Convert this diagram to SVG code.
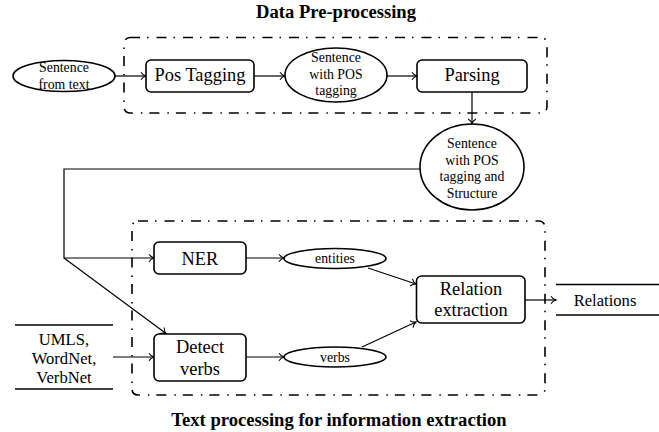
<svg xmlns="http://www.w3.org/2000/svg" width="659" height="432" viewBox="0 0 659 432">
<defs>
<marker id="arr" markerWidth="10" markerHeight="10" viewBox="-6 -5 7 10" refX="0" refY="0" orient="auto" markerUnits="userSpaceOnUse">
<path d="M-5,-3.8 C-3.5,-1.5 -1,-0.3 0,0 C-1,0.3 -3.5,1.5 -5,3.8" fill="none" stroke="#000" stroke-width="1.1"/>
</marker>
<style>
text{font-family:"Liberation Serif","Times New Roman",serif;fill:#000;text-anchor:middle}
.title{font-weight:bold;font-size:18.6px}
.big{font-size:18.4px}
.mid{font-size:16.6px}
.small{font-size:13.8px}
.box{fill:#fff;stroke:#000;stroke-width:1.6}
.group{fill:none;stroke:#000;stroke-width:1.6;stroke-dasharray:10 7 1.5 8}
.con{fill:none;stroke:#000;stroke-width:1.2}
.arrow{marker-end:url(#arr)}
.rule{stroke:#000;stroke-width:1.6}
</style>
</defs>
<rect width="659" height="432" fill="#fff"/>

<g id="titles">
<text class="title" x="336" y="17.5">Data Pre-processing</text>
<text class="title" x="339" y="426">Text processing for information extraction</text>
</g>

<g id="group-preprocessing">
<rect class="group" x="124" y="37.5" width="423" height="75.5" rx="6"/>
</g>
<g id="group-textprocessing">
<rect class="group" x="132" y="221" width="413" height="174" rx="6"/>
</g>

<g id="connectors">
<line class="con arrow" x1="115" y1="76" x2="146" y2="76"/>
<line class="con arrow" x1="254" y1="76" x2="285" y2="76"/>
<line class="con arrow" x1="387" y1="76" x2="417" y2="76"/>
<line class="con arrow" x1="472" y1="92" x2="472" y2="124"/>
<polyline class="con arrow" points="420,169 64,169 64,258 154,258"/>
<line class="con arrow" x1="64" y1="258" x2="166" y2="333.5"/>
<line class="con arrow" x1="246" y1="258" x2="284" y2="258"/>
<line class="con arrow" x1="113" y1="357" x2="154" y2="357"/>
<line class="con arrow" x1="246" y1="357" x2="284" y2="357"/>
<line class="con arrow" x1="368" y1="268" x2="416" y2="284"/>
<line class="con arrow" x1="362" y1="347" x2="416" y2="322"/>
<line class="con arrow" x1="525" y1="300" x2="556" y2="300"/>
</g>

<g id="sentence-from-text">
<ellipse class="box" cx="64" cy="76" rx="51" ry="15.5"/>
<text class="small" x="64" y="72">Sentence</text>
<text class="small" x="64" y="88.5">from text</text>
</g>

<g id="pos-tagging">
<rect class="box" x="146" y="60" width="108" height="32" rx="5"/>
<text class="big" x="200" y="81">Pos Tagging</text>
</g>

<g id="sentence-pos">
<ellipse class="box" cx="336" cy="75" rx="51" ry="27"/>
<text class="small" x="336" y="62">Sentence</text>
<text class="small" x="336" y="78.5">with POS</text>
<text class="small" x="336" y="95">tagging</text>
</g>

<g id="parsing">
<rect class="box" x="417" y="60" width="110" height="32" rx="5"/>
<text class="big" x="472" y="81">Parsing</text>
</g>

<g id="sentence-structure">
<ellipse class="box" cx="472" cy="167" rx="52" ry="43"/>
<text class="small" x="472" y="148">Sentence</text>
<text class="small" x="472" y="164.5">with POS</text>
<text class="small" x="472" y="181">tagging and</text>
<text class="small" x="472" y="197.5">Structure</text>
</g>

<g id="ner">
<rect class="box" x="154" y="242" width="92" height="32" rx="5"/>
<text class="big" x="200" y="264.5">NER</text>
</g>

<g id="detect-verbs">
<rect class="box" x="154" y="334" width="92" height="47" rx="5"/>
<text class="big" x="200" y="353">Detect</text>
<text class="big" x="200" y="375">verbs</text>
</g>

<g id="entities">
<ellipse class="box" cx="335" cy="258.5" rx="51" ry="10"/>
<text class="small" x="335" y="263">entities</text>
</g>

<g id="verbs">
<ellipse class="box" cx="335" cy="357" rx="51" ry="10"/>
<text class="small" x="335" y="361.5">verbs</text>
</g>

<g id="relation-extraction">
<rect class="box" x="416.5" y="276" width="108.5" height="47" rx="5"/>
<text class="big" x="471" y="295">Relation</text>
<text class="big" x="471" y="316">extraction</text>
</g>

<g id="umls">
<line class="rule" x1="15" y1="325" x2="113" y2="325"/>
<line class="rule" x1="15" y1="389" x2="113" y2="389"/>
<text class="mid" x="64" y="344.5">UMLS,</text>
<text class="mid" x="64" y="363.5">WordNet,</text>
<text class="mid" x="64" y="382.5">VerbNet</text>
</g>

<g id="relations">
<line class="rule" x1="556" y1="284.5" x2="659" y2="284.5"/>
<line class="rule" x1="556" y1="315" x2="659" y2="315"/>
<text class="mid" x="605" y="305.5">Relations</text>
</g>
</svg>
